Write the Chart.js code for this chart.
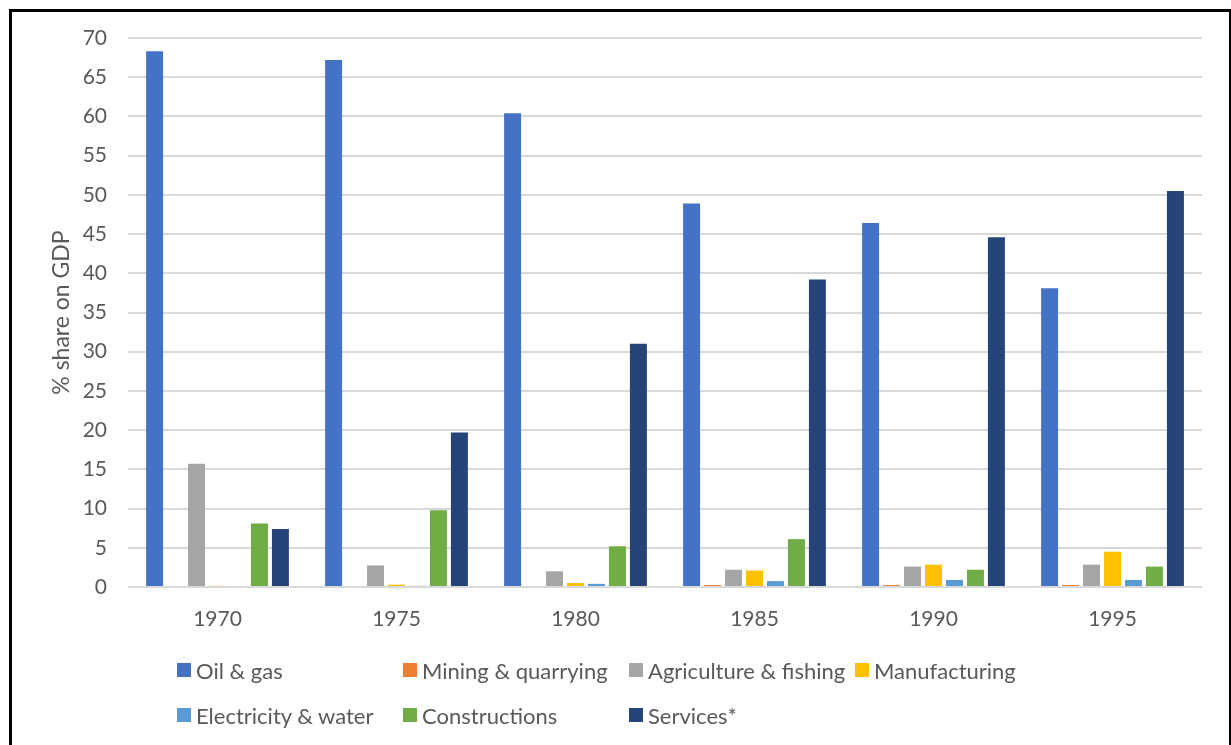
<!DOCTYPE html>
<html>
<head>
<meta charset="utf-8">
<title>Sector shares of GDP</title>
<script src="https://cdn.jsdelivr.net/npm/chart.js@4/dist/chart.umd.min.js"></script>
<style>
  html, body { margin: 0; padding: 0; background: #fff; }
  #wrap { position: relative; width: 1231px; height: 745px; overflow: hidden; }
  #frame {
    position: absolute; left: 9px; top: 9px; width: 1217px; height: 800px;
    border-left: 3px solid #000; border-top: 3px solid #000; border-right: 2px solid #000;
    pointer-events: none;
  }
  #legend {
    position: absolute; left: 177px; top: 653px;
    display: grid; grid-template-columns: 226px 226px 226px 226px; grid-auto-rows: 45px;
    font-family: Lato, "Open Sans", sans-serif; font-size: 22px; color: #595959;
  }
  #legend .item { display: flex; align-items: center; height: 34px; white-space: nowrap; }
  #legend .box { width: 14px; height: 14px; margin-right: 5px; flex: none; }
</style>
</head>
<body>
<div id="wrap">
  <canvas id="gdpChart" width="1231" height="745"></canvas>
  <div id="legend"></div>
  <div id="frame"></div>
</div>
<script>
// years on the x axis
const years = ['1970', '1975', '1980', '1985', '1990', '1995'];

// % share on GDP by sector
const oilGas        = [68.3, 67.2, 60.4, 48.9, 46.4, 38.1];
const mining        = [0, 0, 0, 0.25, 0.25, 0.25];
const agriculture   = [15.7, 2.75, 2.0, 2.2, 2.6, 2.85];
const manufacturing = [0.15, 0.3, 0.5, 2.1, 2.85, 4.5];
const electricity   = [0, 0.15, 0.4, 0.75, 0.9, 0.9];
const constructions = [8.1, 9.8, 5.2, 6.1, 2.2, 2.6];
const services      = [7.4, 19.7, 31.0, 39.2, 44.6, 50.5];

const sectorNames = ['Oil & gas', 'Mining & quarrying', 'Agriculture & fishing', 'Manufacturing',
                     'Electricity & water', 'Constructions', 'Services*'];
const sectorValues = [oilGas, mining, agriculture, manufacturing, electricity, constructions, services];
const sectorColors = ['#4472C4', '#ED7D31', '#A5A5A5', '#FFC000', '#5B9BD5', '#70AD47', '#264478'];

const yTicks = { min: 0, max: 70, step: 5 };

const textColor = '#595959';
const fontFamily = 'Lato, "Open Sans", sans-serif';

// legend laid out in fixed columns, built from the chart's datasets
const htmlLegend = {
  id: 'htmlLegend',
  afterUpdate(chart) {
    const box = document.getElementById('legend');
    box.innerHTML = '';
    chart.data.datasets.forEach(ds => {
      const item = document.createElement('div');
      item.className = 'item';
      const swatch = document.createElement('span');
      swatch.className = 'box';
      swatch.style.background = ds.backgroundColor;
      const label = document.createElement('span');
      label.textContent = ds.label;
      item.appendChild(swatch);
      item.appendChild(label);
      box.appendChild(item);
    });
  }
};

const ctx = document.getElementById('gdpChart').getContext('2d');
new Chart(ctx, {
  type: 'bar',
  data: {
    labels: years,
    datasets: sectorNames.map((name, i) => ({
      label: name,
      data: sectorValues[i],
      backgroundColor: sectorColors[i],
      borderWidth: 0,
      categoryPercentage: 0.82,
      barPercentage: 0.81
    }))
  },
  options: {
    responsive: false,
    animation: false,
    layout: { padding: { top: 38, right: 29, bottom: 0, left: 0 } },
    plugins: {
      legend: { display: false },
      tooltip: { enabled: false }
    },
    scales: {
      x: {
        grid: { display: false, drawTicks: false },
        border: { display: false },
        ticks: { color: textColor, font: { family: fontFamily, size: 21 }, padding: 20 },
        afterFit(scale) { scale.height = 158; }
      },
      y: {
        min: yTicks.min,
        max: yTicks.max,
        grid: { color: '#d9d9d9', lineWidth: 2, drawTicks: false },
        border: { display: false },
        ticks: {
          stepSize: yTicks.step,
          color: textColor,
          font: { family: fontFamily, size: 21 },
          padding: 21
        },
        title: {
          display: true,
          text: '% share on GDP',
          color: textColor,
          font: { family: fontFamily, size: 23 },
          padding: { top: 48, bottom: 0 }
        },
        afterFit(scale) { scale.width = 128; }
      }
    }
  },
  plugins: [htmlLegend]
});
</script>
</body>
</html>
